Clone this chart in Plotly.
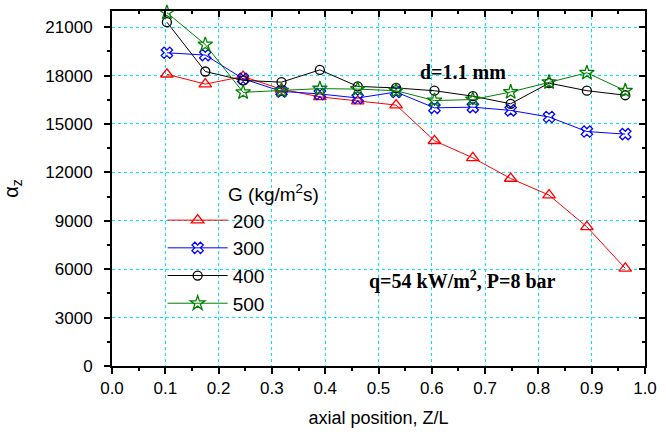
import plotly.graph_objects as go

# Axial positions (Z/L) of the measurement stations
z_over_l = [0.103, 0.175, 0.246, 0.318, 0.390, 0.461, 0.533,
            0.605, 0.677, 0.748, 0.820, 0.891, 0.963]

# Local heat transfer coefficient for each mass flux G (kg/m2s)
alpha_g200 = [18080, 17470, 17940, 17150, 16680, 16410, 16170,
              13960, 12900, 11620, 10590, 8620, 6050]
alpha_g300 = [19410, 19270, 17800, 17020, 16860, 16610, 16980,
              16000, 16040, 15840, 15430, 14530, 14370]
alpha_g400 = [21310, 18250, 17700, 17590, 18350, 17330, 17230,
              17060, 16720, 16250, 17530, 17060, 16780]
alpha_g500 = [21900, 19920, 16960, 17060, 17190, 17160, 17060,
              16450, 16510, 16980, 17590, 18170, 17060]

series_names = ["200", "300", "400", "500"]

x_ticks = [round(0.1 * i, 1) for i in range(11)]
y_ticks = list(range(0, 21001, 3000))

styles = [
    dict(color="#ff0000", symbol="triangle-up-open", size=11),
    dict(color="#0000ff", symbol="x-open", size=10),
    dict(color="#000000", symbol="circle-open", size=9),
    dict(color="#008000", symbol="star-open", size=11),
]

fig = go.Figure()
for name, values, st in zip(series_names,
                            [alpha_g200, alpha_g300, alpha_g400, alpha_g500],
                            styles):
    fig.add_trace(go.Scatter(
        x=z_over_l, y=values, name=name, mode="lines+markers",
        line=dict(color=st["color"], width=1),
        marker=dict(symbol=st["symbol"], size=st["size"], color=st["color"],
                    line=dict(color=st["color"], width=1.3)),
        cliponaxis=False,
    ))

# Transparent copy on the secondary axes so the top/right tick axes render
fig.add_trace(go.Scatter(
    x=z_over_l, y=alpha_g200, xaxis="x2", yaxis="y2", mode="markers",
    marker=dict(opacity=0), showlegend=False, hoverinfo="skip",
))

grid = dict(showgrid=True, gridcolor="#00e5ee", griddash="dot", gridwidth=1)
font_ticks = dict(family="Liberation Sans, Arial", size=17, color="#000")

fig.update_layout(
    width=666, height=434,
    margin=dict(l=111, r=16, t=9, b=66),
    paper_bgcolor="white", plot_bgcolor="white",
    showlegend=True,
    legend=dict(
        font=dict(family="Liberation Sans, Arial", size=19, color="#000"),
        x=0.095, y=0.464, xanchor="left", yanchor="top",
        bgcolor="rgba(0,0,0,0)", tracegroupgap=0, itemwidth=60,
    ),
    xaxis=dict(
        range=[0, 1.0], tickvals=x_ticks, tickformat=".1f",
        ticks="outside", ticklen=6, tickwidth=1.5, tickcolor="#000",
        minor=dict(dtick=0.05, ticks="outside", ticklen=3, tickcolor="#000",
                   showgrid=False),
        showline=True, mirror=True, linecolor="#000", linewidth=2,
        zeroline=False, tickfont=font_ticks,
        title=dict(text="axial position, Z/L", standoff=14,
                   font=dict(family="Liberation Sans, Arial", size=18,
                             color="#000")),
        **grid,
    ),
    yaxis=dict(
        range=[0, 22000], tickvals=y_ticks, tickformat="d",
        ticks="outside", ticklen=6, tickwidth=1.5, tickcolor="#000",
        ticklabelstandoff=8,
        minor=dict(dtick=1500, ticks="outside", ticklen=3, tickcolor="#000",
                   showgrid=False),
        showline=True, mirror=True, linecolor="#000", linewidth=2,
        zeroline=False, tickfont=font_ticks,
        title=dict(text="α<sub>z</sub>", standoff=22,
                   font=dict(family="Liberation Sans, Arial", size=20,
                             color="#000")),
        **grid,
    ),
    xaxis2=dict(
        overlaying="x", side="top", anchor="y", range=[0, 1.0],
        tickvals=x_ticks, showticklabels=False,
        ticks="inside", ticklen=6, tickwidth=1.5, tickcolor="#000",
        minor=dict(dtick=0.05, ticks="inside", ticklen=3, tickcolor="#000"),
        showline=True, linecolor="#000", linewidth=2, showgrid=False,
        zeroline=False,
    ),
    yaxis2=dict(
        overlaying="y", side="right", anchor="x", range=[0, 22000],
        tickvals=y_ticks, showticklabels=False,
        ticks="inside", ticklen=6, tickwidth=1.5, tickcolor="#000",
        minor=dict(dtick=1500, ticks="inside", ticklen=3, tickcolor="#000"),
        showline=True, linecolor="#000", linewidth=2, showgrid=False,
        zeroline=False,
    ),
)

fig.add_annotation(text="G (kg/m<sup>2</sup>s)", xref="paper", yref="paper",
                   x=0.213, y=0.528, xanchor="left", yanchor="top",
                   showarrow=False,
                   font=dict(family="Liberation Sans, Arial", size=19,
                             color="#000"))

serif_bold = dict(family="Liberation Serif, Times New Roman", size=20,
                  color="#000")
fig.add_annotation(text="<b>d=1.1 mm</b>", xref="paper", yref="paper",
                   x=0.658, y=0.866, showarrow=False, font=serif_bold)
fig.add_annotation(text="<b>q=54 kW/m<sup>2</sup>, P=8 bar</b>",
                   xref="paper", yref="paper", x=0.658, y=0.20,
                   showarrow=False, font=serif_bold)

fig.write_html("out.html")
